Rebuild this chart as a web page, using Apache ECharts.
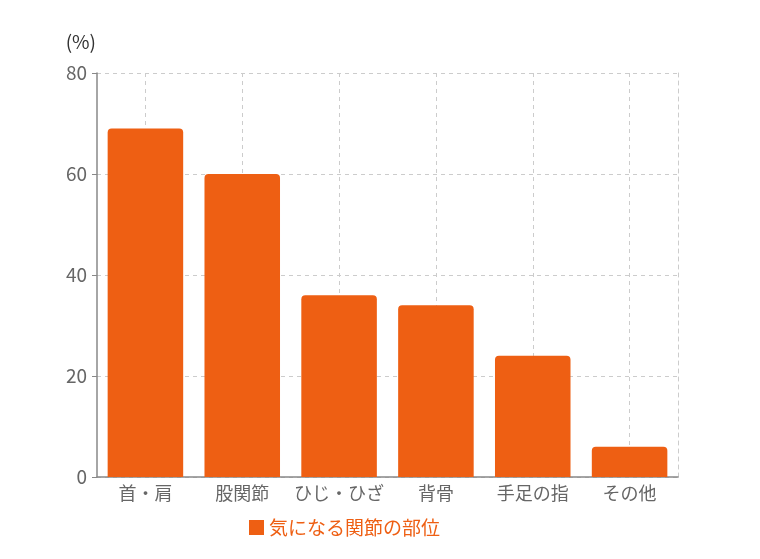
<!DOCTYPE html>
<html><head><meta charset="utf-8">
<script src="https://cdn.jsdelivr.net/npm/echarts@6/dist/echarts.min.js"></script>
<style>html,body{margin:0;padding:0;background:#fff}#c{width:760px;height:559px}</style>
</head><body><div id="c"></div>
<script>
const categories = ['首・肩', '股関節', 'ひじ・ひざ', '背骨', '手足の指', 'その他'];
const values = [69, 60, 36, 34, 24, 6];
const seriesName = '気になる関節の部位';
const yTicks = [0, 20, 40, 60, 80];

const font = '"Noto Sans CJK JP", "Noto Sans", sans-serif';
const chart = echarts.init(document.getElementById('c'));
chart.setOption({
  animation: false,
  textStyle: { fontFamily: font },
  grid: { left: 97, right: 82, top: 73, bottom: 82, containLabel: false },
  legend: {
    data: [seriesName], left: 249, top: 518, padding: 0, icon: 'rect', itemWidth: 15, itemHeight: 15, itemGap: 6,
    textStyle: { color: '#EE5F13', fontSize: 19, fontFamily: font }
  },
  xAxis: {
    type: 'category', data: categories,
    axisLine: { lineStyle: { color: '#888', width: 1.5 } },
    axisTick: { alignWithLabel: true, length: 5, lineStyle: { color: '#888' } },
    axisLabel: { color: '#666', fontSize: 18, margin: 7, interval: 0, fontFamily: font },
    splitLine: { show: true, alignWithLabel: true, lineStyle: { color: '#ccc', type: [4, 4] } }
  },
  yAxis: [{
    type: 'value', min: yTicks[0], max: yTicks[yTicks.length - 1], interval: 20,
    name: '(%)', nameLocation: 'end', nameGap: 0,
    nameTextStyle: { color: '#333', fontSize: 19, align: 'right', padding: [0, 1, 22, 0], fontFamily: font },
    axisLine: { show: true, lineStyle: { color: '#888', width: 1.5 } },
    axisTick: { show: true, length: 5, lineStyle: { color: '#888' } },
    axisLabel: { color: '#666', fontSize: 19, margin: 10, fontFamily: font },
    splitLine: { show: true, lineStyle: { color: '#ccc', type: [4, 4] } }
  }, {
    type: 'value', position: 'right', min: 0, max: 80, interval: 20,
    axisLine: { show: true, lineStyle: { color: '#ccc', type: [4, 4] } },
    axisTick: { show: false }, axisLabel: { show: false }, splitLine: { show: false }
  }],
  series: [{
    name: seriesName, type: 'bar', data: values, barWidth: '78%',
    itemStyle: { color: '#EE5F13', borderRadius: [4, 4, 0, 0] }
  }]
});
</script></body></html>
